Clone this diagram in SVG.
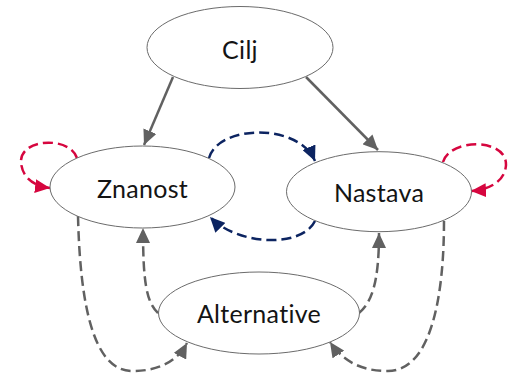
<svg xmlns="http://www.w3.org/2000/svg" width="508" height="373" viewBox="0 0 508 373">
  <style>
    .node ellipse { fill: #ffffff; stroke: #6b6b6b; stroke-width: 1; }
    .node text { font-family: Lato, "Open Sans", sans-serif; font-size: 25px; font-weight: 400; fill: #141414; text-anchor: middle; font-variant-ligatures: none; letter-spacing: 0.3px; }
    .edge { fill: none; stroke-width: 2.5; }
    .gray { stroke: #616161; }
    .dash { stroke-dasharray: 10 5; }
    .blue { stroke: #0c2461; }
    .red { stroke: #d6063f; }
  </style>
  <defs>
    <marker id="ah-gray" markerUnits="userSpaceOnUse" markerWidth="16" markerHeight="14" refX="15" refY="7" orient="auto">
      <path d="M0,0 L15,7 L0,14 Z" fill="#616161"/>
    </marker>
    <marker id="ah-blue" markerUnits="userSpaceOnUse" markerWidth="16" markerHeight="14" refX="15" refY="7" orient="auto">
      <path d="M0,0 L15,7 L0,14 Z" fill="#0c2461"/>
    </marker>
    <marker id="ah-red" markerUnits="userSpaceOnUse" markerWidth="16" markerHeight="14" refX="15" refY="7" orient="auto">
      <path d="M0,0 L15,7 L0,14 Z" fill="#d6063f"/>
    </marker>
  </defs>

  <g id="connectors">
    <!-- Cilj to the two upper nodes -->
    <path class="edge gray" d="M173,77 L144,145" marker-end="url(#ah-gray)"/>
    <path class="edge gray" d="M306,77 L378,150" marker-end="url(#ah-gray)"/>
    <!-- Znanost and Nastava exchange -->
    <path class="edge blue dash" d="M209,158 C218,125 298,122 315,161" marker-end="url(#ah-blue)"/>
    <path class="edge blue dash" d="M315,221 C302,248 238,246 210,217" marker-end="url(#ah-blue)"/>
    <!-- self loops -->
    <path class="edge red dash" d="M77,158 C70,136 20,138 21,162 C22,178 34,186 50,188" marker-end="url(#ah-red)"/>
    <path class="edge red dash" d="M443,162 C450,138 507,138 506,165 C505,182 488,190 471,191" marker-end="url(#ah-red)"/>
    <!-- Alternative up to Znanost and Nastava -->
    <path class="edge gray dash" d="M158,313 C146,302 143,280 143,228" marker-end="url(#ah-gray)"/>
    <path class="edge gray dash" d="M359,313 C372,302 379,282 379,233" marker-end="url(#ah-gray)"/>
    <!-- Znanost and Nastava down to Alternative -->
    <path class="edge gray dash" d="M78,216 C80,300 92,372 133,371 C160,371 178,360 187,343" marker-end="url(#ah-gray)"/>
    <path class="edge gray dash" d="M444,221 C444,300 430,372 387,371 C360,371 342,360 330,342" marker-end="url(#ah-gray)"/>
  </g>

  <g id="cilj" class="node">
    <ellipse cx="240" cy="47.5" rx="93" ry="41"/>
    <text x="240" y="59">Cilj</text>
  </g>
  <g id="znanost" class="node">
    <ellipse cx="142.5" cy="187" rx="92.5" ry="41"/>
    <text x="142.5" y="198">Znanost</text>
  </g>
  <g id="nastava" class="node">
    <ellipse cx="379" cy="191.7" rx="92.5" ry="40"/>
    <text x="379" y="202">Nastava</text>
  </g>
  <g id="alternative" class="node">
    <ellipse cx="259" cy="313" rx="100.5" ry="41"/>
    <text x="259" y="323">Alternative</text>
  </g>
</svg>
